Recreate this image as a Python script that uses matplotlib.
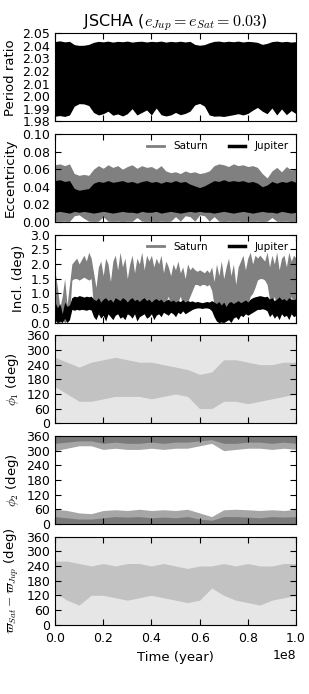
import numpy as np
import matplotlib
matplotlib.use('Agg')
from matplotlib import pyplot as plt

# envelopes, time in units of 1e8 yr
# 51 samples -> step 0.02, 101 samples -> step 0.01, 21 samples -> step 0.05
pr_up = [2.0435, 2.0440, 2.0432, 2.0436, 2.0410, 2.0404, 2.0405, 2.0412, 2.0428, 2.0436,
         2.0432, 2.0438, 2.0430, 2.0436, 2.0433, 2.0438, 2.0430, 2.0435, 2.0437, 2.0431,
         2.0436, 2.0433, 2.0438, 2.0430, 2.0436, 2.0432, 2.0437, 2.0431, 2.0436, 2.0412,
         2.0405, 2.0410, 2.0425, 2.0436, 2.0438, 2.0432, 2.0437, 2.0433, 2.0438, 2.0431,
         2.0436, 2.0433, 2.0428, 2.0412, 2.0420, 2.0434, 2.0438, 2.0432, 2.0436, 2.0430, 2.0434]
pr_lo = [1.9840, 1.9845, 1.9838, 1.9850, 1.9920, 1.9940, 1.9938, 1.9925, 1.9870, 1.9850,
         1.9860, 1.9880, 1.9848, 1.9858, 1.9842, 1.9860, 1.9900, 1.9850, 1.9870, 1.9890,
         1.9850, 1.9905, 1.9852, 1.9842, 1.9850, 1.9870, 1.9852, 1.9862, 1.9880, 1.9930,
         1.9942, 1.9920, 1.9850, 1.9840, 1.9842, 1.9838, 1.9845, 1.9852, 1.9860, 1.9850,
         1.9862, 1.9888, 1.9910, 1.9880, 1.9860, 1.9905, 1.9850, 1.9898, 1.9852, 1.9885, 1.9860]

ecc_sat_up = [0.065, 0.066, 0.064, 0.066, 0.055, 0.053, 0.054, 0.053, 0.060,
              0.064, 0.061, 0.065, 0.062, 0.064, 0.060, 0.063, 0.065, 0.061, 0.064, 0.062, 0.063, 0.060, 0.064,
              0.058, 0.056, 0.057, 0.055, 0.058, 0.056, 0.057, 0.055, 0.056, 0.058,
              0.064, 0.066, 0.065, 0.063, 0.066, 0.064, 0.065, 0.063, 0.064, 0.062,
              0.055, 0.050, 0.058, 0.062, 0.057, 0.063, 0.059, 0.061]
ecc_sat_lo = [0.0008, 0.0006, 0.0008, 0.0005, 0.0070, 0.0080, 0.0040, 0.0008, 0.0006, 0.0008,
              0.0060, 0.0008, 0.0006, 0.0008, 0.0005, 0.0008, 0.0006, 0.0050, 0.0008, 0.0006,
              0.0008, 0.0005, 0.0008, 0.0006, 0.0008, 0.0060, 0.0008, 0.0070, 0.0060, 0.0008,
              0.0080, 0.0070, 0.0008, 0.0060, 0.0008, 0.0005, 0.0008, 0.0006, 0.0008, 0.0005,
              0.0008, 0.0006, 0.0008, 0.0005, 0.0008, 0.0050, 0.0008, 0.0006, 0.0008, 0.0005, 0.0008]
ecc_jup_up = [0.047, 0.048, 0.046, 0.047, 0.038, 0.036, 0.037, 0.038, 0.044,
              0.046, 0.045, 0.047, 0.045, 0.046, 0.047, 0.045, 0.046, 0.044, 0.046,
              0.047, 0.045, 0.046, 0.044, 0.046, 0.045, 0.047, 0.045, 0.046, 0.043,
              0.041, 0.039, 0.041, 0.044,
              0.047, 0.046, 0.048, 0.046, 0.047, 0.046, 0.047, 0.045, 0.046, 0.044,
              0.040, 0.042, 0.046, 0.044, 0.046, 0.045, 0.047, 0.045]
ecc_jup_lo = [0.011, 0.012, 0.011, 0.010, 0.012, 0.011, 0.012, 0.011, 0.010, 0.011,
              0.012, 0.011, 0.010, 0.011, 0.012, 0.011, 0.011, 0.010, 0.012, 0.011,
              0.011, 0.012, 0.010, 0.011, 0.012, 0.011, 0.010, 0.011, 0.012, 0.011,
              0.012, 0.011, 0.011, 0.010, 0.011, 0.012, 0.011, 0.010, 0.011, 0.012,
              0.011, 0.010, 0.011, 0.012, 0.011, 0.011, 0.010, 0.012, 0.011, 0.010, 0.011]

inc_sat_up = [1.75, 1.2, 0.5, 0.9, 1.5, 0.6, 1.3, 2.0, 2.1, 2.2,
              2.0, 2.15, 2.3, 2.1, 2.4, 2.2, 1.7, 1.2, 1.9, 2.1,
              1.6, 2.2, 2.0, 1.4, 2.1, 2.3, 1.8, 2.4, 1.9, 2.2,
              1.5, 2.0, 2.3, 1.7, 2.2, 2.0, 2.4, 1.8, 2.3, 2.1,
              2.3, 1.9, 2.2, 2.0, 2.3, 1.7, 2.1, 1.9, 1.6, 2.0,
              1.8, 2.1, 1.7, 1.9, 1.5, 2.0, 1.8, 1.9, 1.8, 1.75,
              1.8, 1.75, 1.7, 1.8, 1.7, 1.9, 1.4, 2.0, 1.6, 2.1,
              1.5, 1.9, 2.2, 1.6, 2.0, 1.3, 1.9, 2.1, 2.3, 1.8,
              2.2, 2.4, 2.0, 2.3, 2.2, 2.3, 2.2, 2.1, 2.4, 1.9,
              2.3, 2.0, 2.4, 1.8, 2.2, 2.3, 1.9, 2.4, 2.1, 2.3, 2.2]
inc_sat_lo = [0.05, 0.0, 0.0, 0.1, 0.0, 0.05, 0.2,
              1.45, 1.5, 1.5, 1.45, 1.5, 1.55, 1.5, 1.45, 1.5,
              0.5, 0.3, 0.6, 0.4, 0.7, 0.5, 0.4, 0.6, 0.3, 0.5,
              0.7, 0.4, 0.5, 0.8, 0.3, 0.6, 0.5, 0.7, 0.4, 0.6,
              0.5, 0.8, 0.4, 0.6, 0.5, 0.7, 0.4, 0.6, 0.8, 0.5,
              0.7, 0.9, 0.6, 0.8, 0.5, 0.7, 0.9, 0.6, 0.4, 0.7,
              0.9, 1.1,
              1.3, 1.3, 1.25, 1.3, 1.3, 1.25, 1.3, 1.1,
              0.6, 0.3, 0.2, 0.4, 0.1, 0.3, 0.2, 0.5, 0.3, 0.6,
              0.4, 0.7, 0.5, 0.8, 0.6, 0.9, 1.0, 1.2,
              1.45, 1.5, 1.5, 1.45, 1.3,
              0.8, 0.6, 0.9, 0.5, 0.7, 0.4, 0.8, 0.6, 0.5, 0.9, 0.6, 0.7]
inc_jup_up = [0.7, 0.5, 0.65, 0.3, 0.7, 0.55, 0.6,
              0.85, 0.9, 0.88, 0.92, 0.9, 0.87, 0.9, 0.88, 0.9,
              0.8, 0.75, 0.85, 0.7, 0.8, 0.85, 0.75, 0.8, 0.7, 0.85,
              0.8, 0.75, 0.85, 0.8, 0.7, 0.8, 0.85, 0.75, 0.8, 0.72,
              0.8, 0.85, 0.75, 0.8, 0.7, 0.78, 0.82, 0.75, 0.8, 0.7,
              0.76, 0.8, 0.72, 0.78, 0.7, 0.75, 0.72, 0.78, 0.7, 0.75,
              0.72, 0.74,
              0.7, 0.72, 0.7, 0.68, 0.7, 0.72, 0.7, 0.75,
              0.7, 0.65, 0.72, 0.6, 0.7, 0.55, 0.68, 0.72, 0.65, 0.7,
              0.75, 0.68, 0.72, 0.78, 0.7, 0.8, 0.85, 0.88,
              0.9, 0.92, 0.9, 0.88, 0.9,
              0.8, 0.85, 0.75, 0.8, 0.88, 0.78, 0.82, 0.75, 0.85, 0.8, 0.78, 0.82]
inc_jup_lo = [0.1, 0.0, 0.05, 0.0, 0.15, 0.0, 0.1,
              0.45, 0.42, 0.45, 0.43, 0.45, 0.44, 0.42, 0.45, 0.43,
              0.2, 0.1, 0.3, 0.15, 0.25, 0.05, 0.3, 0.2, 0.1, 0.25,
              0.3, 0.15, 0.2, 0.1, 0.3, 0.25, 0.15, 0.3, 0.05, 0.2,
              0.25, 0.3, 0.15, 0.2, 0.3, 0.1, 0.25, 0.3, 0.2, 0.35,
              0.3, 0.25, 0.35, 0.3, 0.2, 0.35, 0.3, 0.4, 0.3, 0.35,
              0.4, 0.45,
              0.48, 0.5, 0.5, 0.48, 0.5, 0.5, 0.48, 0.4,
              0.2, 0.05, 0.0, 0.02, 0.0, 0.05, 0.1, 0.0, 0.15, 0.2,
              0.1, 0.25, 0.2, 0.3, 0.25, 0.3, 0.35, 0.4,
              0.45, 0.45, 0.47, 0.45, 0.4,
              0.2, 0.3, 0.15, 0.25, 0.1, 0.3, 0.2, 0.25, 0.1, 0.3, 0.2, 0.25]

# resonant angles: the point clouds are shown as shaded density regions
phi1_lo = [150, 120, 90, 90, 100, 110, 110, 110, 100, 110, 120, 110, 60, 60, 90, 90, 80, 90, 100, 110, 120]
phi1_hi = [270, 250, 230, 250, 260, 270, 260, 250, 250, 240, 230, 220, 200, 210, 260, 260, 250, 240, 240, 250, 250]
phi2_low_top = [60, 55, 45, 42, 55, 58, 55, 60, 55, 58, 55, 60, 45, 30, 58, 60, 58, 55, 58, 55, 60]
phi2_low_dense = [30, 25, 20, 20, 25, 30, 28, 30, 25, 28, 25, 30, 20, 15, 30, 30, 28, 25, 30, 28, 30]
phi2_high_bot = [300, 310, 320, 320, 305, 310, 305, 305, 310, 305, 310, 310, 320, 330, 300, 305, 310, 310, 305, 310, 305]
phi2_high_dense = [330, 335, 340, 340, 330, 335, 330, 330, 335, 330, 335, 335, 340, 345, 330, 330, 335, 335, 330, 335, 330]
dw_lo = [130, 100, 80, 120, 120, 110, 100, 110, 120, 110, 100, 90, 100, 150, 120, 100, 90, 80, 100, 110, 120]
dw_hi = [260, 260, 250, 240, 250, 240, 250, 250, 240, 250, 240, 230, 240, 240, 250, 240, 250, 240, 240, 250, 250]

t51 = np.linspace(0, 1, len(pr_up)) * 1e8
t101 = np.linspace(0, 1, len(inc_sat_up)) * 1e8
t21 = np.linspace(0, 1, len(phi1_lo)) * 1e8

plt.rcParams['font.family'] = 'DejaVu Sans'
plt.rcParams['font.size'] = 9
plt.rcParams['axes.labelsize'] = 9.5
plt.rcParams['mathtext.fontset'] = 'cm'
plt.rcParams['xtick.direction'] = 'in'
plt.rcParams['ytick.direction'] = 'in'
plt.rcParams['xtick.top'] = True
plt.rcParams['ytick.right'] = True
plt.rcParams['xtick.major.size'] = 4
plt.rcParams['ytick.major.size'] = 4
plt.rcParams['xtick.major.pad'] = 5.5

gray = '#808080'

fig, axes = plt.subplots(6, 1, figsize=(3.09, 6.94), dpi=100, sharex=True)
fig.subplots_adjust(left=0.178, right=0.958, top=0.952, bottom=0.10, hspace=0.145)

# period ratio
ax = axes[0]
ax.fill_between(t51, pr_lo, pr_up, color='k', lw=0)
ax.set_ylim(1.98, 2.05)
ax.set_yticks(np.arange(1.98, 2.0501, 0.01))
ax.yaxis.set_major_formatter(matplotlib.ticker.FormatStrFormatter('%.2f'))
ax.set_ylabel('Period ratio')
ax.set_title(r'JSCHA ($e_{Jup}=e_{Sat}=0.03$)', fontsize=11.5, pad=3)

leg_kw = dict(loc='upper right', ncol=2, frameon=False, fontsize=7.5, handlelength=1.6,
              handletextpad=0.9, columnspacing=2.0, borderaxespad=0.3)

# eccentricity
ax = axes[1]
ax.fill_between(t51, ecc_sat_lo, ecc_sat_up, color=gray, lw=0)
ax.fill_between(t51, ecc_jup_lo, ecc_jup_up, color='k', lw=0)
ax.plot([], [], color=gray, lw=2, label='Saturn')
ax.plot([], [], color='k', lw=2.5, label='Jupiter')
ax.set_ylim(0, 0.1)
ax.set_yticks(np.arange(0, 0.1001, 0.02))
ax.yaxis.set_major_formatter(matplotlib.ticker.FormatStrFormatter('%.2f'))
ax.set_ylabel('Eccentricity')
ax.legend(**leg_kw)

# inclination
ax = axes[2]
ax.fill_between(t101, inc_sat_lo, inc_sat_up, color=gray, lw=0)
ax.fill_between(t101, inc_jup_lo, inc_jup_up, color='k', lw=0)
ax.plot([], [], color=gray, lw=2, label='Saturn')
ax.plot([], [], color='k', lw=2.5, label='Jupiter')
ax.set_ylim(0, 3)
ax.set_yticks(np.arange(0, 3.01, 0.5))
ax.yaxis.set_major_formatter(matplotlib.ticker.FormatStrFormatter('%.1f'))
ax.set_ylabel('Incl. (deg)')
ax.legend(**leg_kw)

sparse = '#e6e6e6'
dense = '#c2c2c2'

# phi1
ax = axes[3]
ax.fill_between(t21, 0, 360, color=sparse, lw=0)
ax.fill_between(t21, phi1_lo, phi1_hi, color=dense, lw=0)
ax.set_ylabel(r'$\phi_1$ (deg)')

# phi2
ax = axes[4]
ax.fill_between(t21, 0, phi2_low_top, color='#a6a6a6', lw=0)
ax.fill_between(t21, 0, phi2_low_dense, color='#7a7a7a', lw=0)
ax.fill_between(t21, phi2_high_bot, 360, color='#a6a6a6', lw=0)
ax.fill_between(t21, phi2_high_dense, 360, color='#7a7a7a', lw=0)
ax.set_ylabel(r'$\phi_2$ (deg)')

# varpi difference
ax = axes[5]
ax.fill_between(t21, 0, 360, color=sparse, lw=0)
ax.fill_between(t21, dw_lo, dw_hi, color=dense, lw=0)
ax.set_ylabel(r'$\varpi_{Sat}-\varpi_{Jup}$ (deg)')

for ax in axes[3:]:
    ax.set_ylim(0, 360)
    ax.set_yticks(np.arange(0, 361, 60))

axes[-1].set_xlim(0, 1e8)
axes[-1].set_xticks(np.arange(0, 1.01e8, 0.2e8))
axes[-1].set_xlabel('Time (year)')

fig.savefig('out.png', dpi=100, facecolor='white')
